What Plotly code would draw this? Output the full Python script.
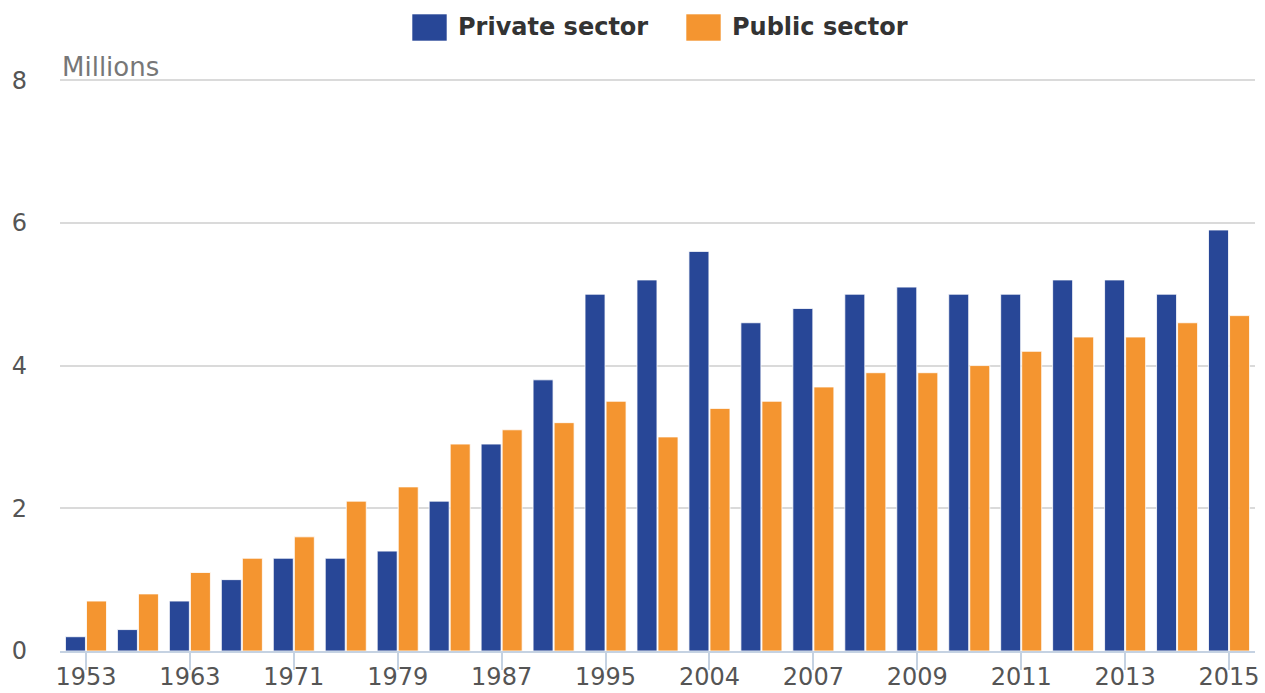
import plotly.graph_objects as go

years = ["1953", "1958", "1963", "1967", "1971", "1975", "1979", "1983", "1987", "1991",
         "1995", "2000", "2004", "2005", "2007", "2008", "2009", "2010", "2011", "2012",
         "2013", "2014", "2015"]
shown_ticks = years[::2]

private_sector = [0.2, 0.3, 0.7, 1.0, 1.3, 1.3, 1.4, 2.1, 2.9, 3.8,
                  5.0, 5.2, 5.6, 4.6, 4.8, 5.0, 5.1, 5.0, 5.0, 5.2,
                  5.2, 5.0, 5.9]
public_sector = [0.7, 0.8, 1.1, 1.3, 1.6, 2.1, 2.3, 2.9, 3.1, 3.2,
                 3.5, 3.0, 3.4, 3.5, 3.7, 3.9, 3.9, 4.0, 4.2, 4.4,
                 4.4, 4.6, 4.7]

series_names = ["Private sector", "Public sector"]
series_colors = ["#284797", "#f49530"]
y_ticks = [0, 2, 4, 6, 8]

W, H = 1265, 693
ML, MR, MT, MB = 60, 10, 78, 42
PW, PH = W - ML - MR, H - MT - MB
Y_TOP = 8.03

fig = go.Figure()
for name, vals, col in zip(series_names, [private_sector, public_sector], series_colors):
    fig.add_trace(go.Bar(
        x=years, y=vals, name=name,
        marker=dict(color=col, line=dict(color="rgba(255,255,255,0.8)", width=1)),
        showlegend=False,
    ))

# custom legend (large swatches like the reference)
def px_x(px):
    return (px - ML) / PW

def px_y(py):
    return (H - MB - py) / PH

legend_items = [(series_names[0], series_colors[0], 412), (series_names[1], series_colors[1], 686)]
shapes = []
annotations = []
for name, col, x0 in legend_items:
    shapes.append(dict(type="rect", xref="paper", yref="paper",
                       x0=px_x(x0), x1=px_x(x0 + 35), y0=px_y(41), y1=px_y(14),
                       fillcolor=col, line=dict(color="rgba(255,255,255,0.6)", width=1)))
    annotations.append(dict(xref="paper", yref="paper", x=px_x(x0 + 44), y=px_y(27),
                            text="<b>%s</b>" % name, showarrow=False,
                            xanchor="left", yanchor="middle",
                            font=dict(family="DejaVu Sans", size=24, color="#333333")))

annotations.append(dict(xref="paper", yref="y", x=0, y=8, text="Millions",
                        showarrow=False, xanchor="left", yanchor="bottom", yshift=-4,
                        font=dict(family="DejaVu Sans", size=26, color="#777777")))

fig.update_layout(
    width=W, height=H,
    margin=dict(l=ML, r=MR, t=MT, b=MB),
    plot_bgcolor="white", paper_bgcolor="white",
    barmode="group", bargap=0.19, bargroupgap=0.05,
    font=dict(family="DejaVu Sans", color="#555555"),
    shapes=shapes, annotations=annotations,
    showlegend=False,
)
fig.update_xaxes(
    type="category", categoryorder="array", categoryarray=years,
    tickmode="array", tickvals=shown_ticks, ticktext=shown_ticks,
    showline=True, linecolor="#c5d2e2", linewidth=2,
    ticks="outside", ticklen=17, tickwidth=2, tickcolor="#c5d2e2",
    tickfont=dict(size=24, color="#555555"),
    ticklabelstandoff=-14,
    showgrid=False, range=[-0.5, len(years) - 0.5],
    automargin=False,
)
fig.update_yaxes(
    range=[0, Y_TOP], tickvals=y_ticks,
    showgrid=True, gridcolor="#dadada", gridwidth=2,
    zeroline=False, showline=False,
    tickfont=dict(size=24, color="#555555"),
    ticklabelstandoff=32,
    automargin=False,
)

fig.write_html("out.html", config={"displayModeBar": False},
               post_script="document.body.style.margin='0';document.body.style.overflow='hidden';")
